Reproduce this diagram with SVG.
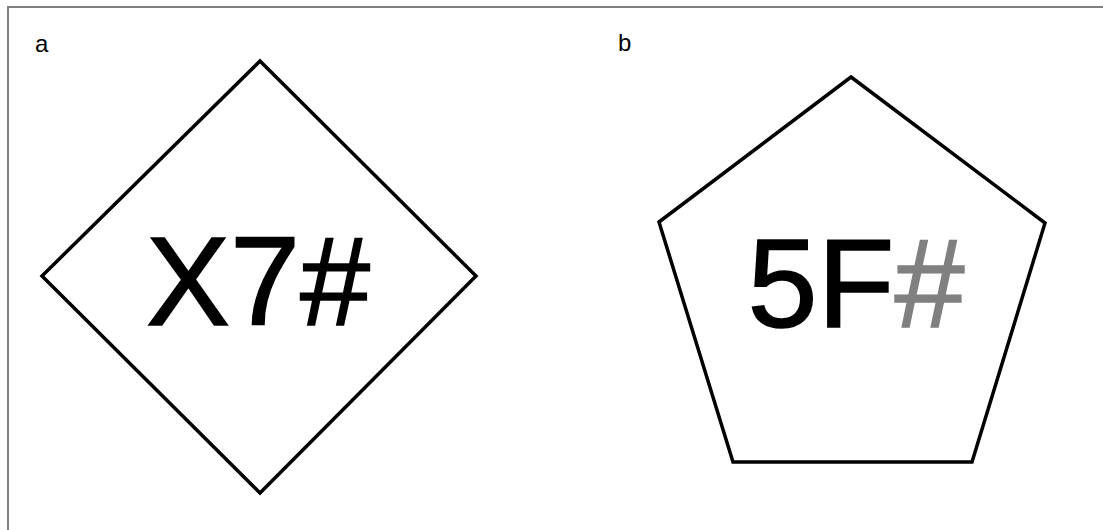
<svg xmlns="http://www.w3.org/2000/svg" width="1103" height="530" viewBox="0 0 1103 530">
<style>
.shape{fill:#fff;stroke:#000;stroke-width:3.5;stroke-linejoin:miter}
.big{font-family:"Liberation Sans",Arial,sans-serif;font-size:126px;text-anchor:middle;stroke-width:1.5}
.lbl{font-family:"Liberation Sans",Arial,sans-serif;font-size:24px}
</style>
<rect width="1103" height="530" fill="#fff"/>
<path d="M8,530 V7 H1103" fill="none" stroke="#808080" stroke-width="2"/>
<g id="panel-a">
<text class="lbl" x="35" y="52">a</text>
<polygon class="shape" points="260,61 476,276 260,493 42,276"/>
<text class="big" x="258" y="325" stroke="#000">X7#</text>
</g>
<g id="panel-b">
<text class="lbl" x="618" y="51">b</text>
<polygon class="shape" points="851,77 1045,223 972,462 733,462 659,222"/>
<text class="big" x="856" y="327"><tspan stroke="#000">5F</tspan><tspan fill="#808080" stroke="#808080">#</tspan></text>
</g>
<g id="connectors"/>
</svg>
